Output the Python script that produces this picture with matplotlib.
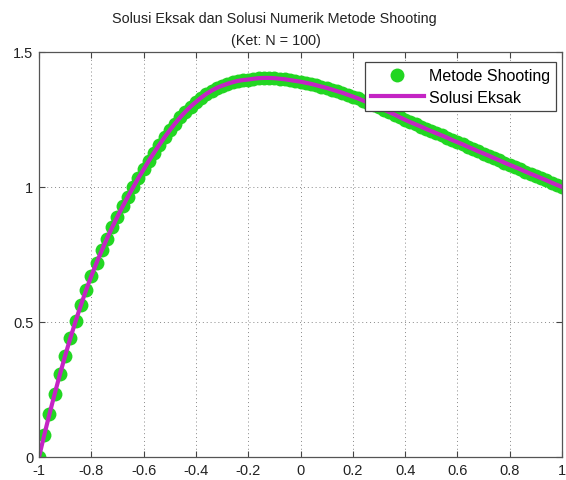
import numpy as np
import matplotlib.pyplot as plt

# N = 100 intervals on [-1, 1]
x_nodes = np.linspace(-1, 1, 101)

# values
y_exact = [
    0.000, 0.081, 0.159, 0.234, 0.306, 0.375, 0.441, 0.503, 0.562, 0.618,
    0.670, 0.719, 0.765, 0.809, 0.851, 0.890, 0.928, 0.964, 0.999, 1.033,
    1.065, 1.097, 1.127, 1.156, 1.184, 1.210, 1.235, 1.258, 1.279, 1.298,
    1.315, 1.331, 1.345, 1.357, 1.367, 1.375, 1.382, 1.388, 1.393, 1.396,
    1.398, 1.401, 1.403, 1.404, 1.404, 1.403, 1.401, 1.399, 1.396, 1.393,
    1.390, 1.386, 1.382, 1.377, 1.372, 1.367, 1.361, 1.355, 1.349, 1.342,
    1.335, 1.328, 1.320, 1.312, 1.304, 1.295, 1.286, 1.277, 1.268, 1.258,
    1.249, 1.240, 1.232, 1.224, 1.215, 1.207, 1.199, 1.191, 1.183, 1.174,
    1.166, 1.158, 1.149, 1.141, 1.132, 1.124, 1.116, 1.107, 1.099, 1.090,
    1.082, 1.074, 1.066, 1.057, 1.049, 1.041, 1.033, 1.025, 1.016, 1.008,
    1.000,
]
# shooting result lies on top of the exact curve at this resolution
y_shooting = y_exact

x_ticks = [-1, -0.8, -0.6, -0.4, -0.2, 0, 0.2, 0.4, 0.6, 0.8, 1]
x_ticklabels = ["-1", "-0.8", "-0.6", "-0.4", "-0.2", "0", "0.2", "0.4", "0.6", "0.8", "1"]
y_ticks = [0, 0.5, 1, 1.5]
y_ticklabels = ["0", "0.5", "1", "1.5"]


def main():
    plt.rcParams.update(
        {
            "font.family": ["Liberation Sans", "DejaVu Sans"],
            "font.size": 10.5,
            "axes.unicode_minus": False,
            "xtick.direction": "in",
            "ytick.direction": "in",
            "xtick.top": True,
            "ytick.right": True,
            "xtick.major.size": 4,
            "ytick.major.size": 4,
        }
    )
    W, H = 566, 481
    fig = plt.figure(figsize=(W / 100, H / 100), dpi=100)
    ax = fig.add_axes([39 / W, 23 / H, 523 / W, 405 / H])

    ax.plot(x_nodes, y_shooting, "o", color="#22d622", markersize=10,
            markeredgewidth=0, label="Metode Shooting")
    ax.plot(x_nodes, y_exact, "-", color="#c424c4", linewidth=3,
            label="Solusi Eksak")

    ax.set_xlim(-1, 1)
    ax.set_ylim(0, 1.5)
    ax.set_xticks(x_ticks)
    ax.set_xticklabels(x_ticklabels)
    ax.set_yticks(y_ticks)
    ax.set_yticklabels(y_ticklabels)
    ax.tick_params(colors="#444444", labelcolor="#222222", pad=4)
    for sp in ax.spines.values():
        sp.set_color("#555555")
        sp.set_linewidth(0.9)
    ax.grid(True, color="#888888", linestyle=(0, (1, 3)), linewidth=0.7)

    leg = ax.legend(loc="upper right", fancybox=False, framealpha=1,
                    edgecolor="#444444", handlelength=3.3, borderpad=0.4,
                    labelspacing=0.4, handletextpad=0.3, fontsize=11.5,
                    bbox_to_anchor=(1.004, 0.995))
    leg.get_frame().set_linewidth(0.9)

    fig.text(274 / W, 1 - 19 / H, "Solusi Eksak dan Solusi Numerik Metode Shooting",
             ha="center", va="center", color="#222222", fontsize=10.4)
    fig.text(276 / W, 1 - 41 / H, "(Ket: N = 100)",
             ha="center", va="center", color="#222222", fontsize=10.4)

    fig.savefig("out.png", dpi=100)


if __name__ == "__main__":
    main()
